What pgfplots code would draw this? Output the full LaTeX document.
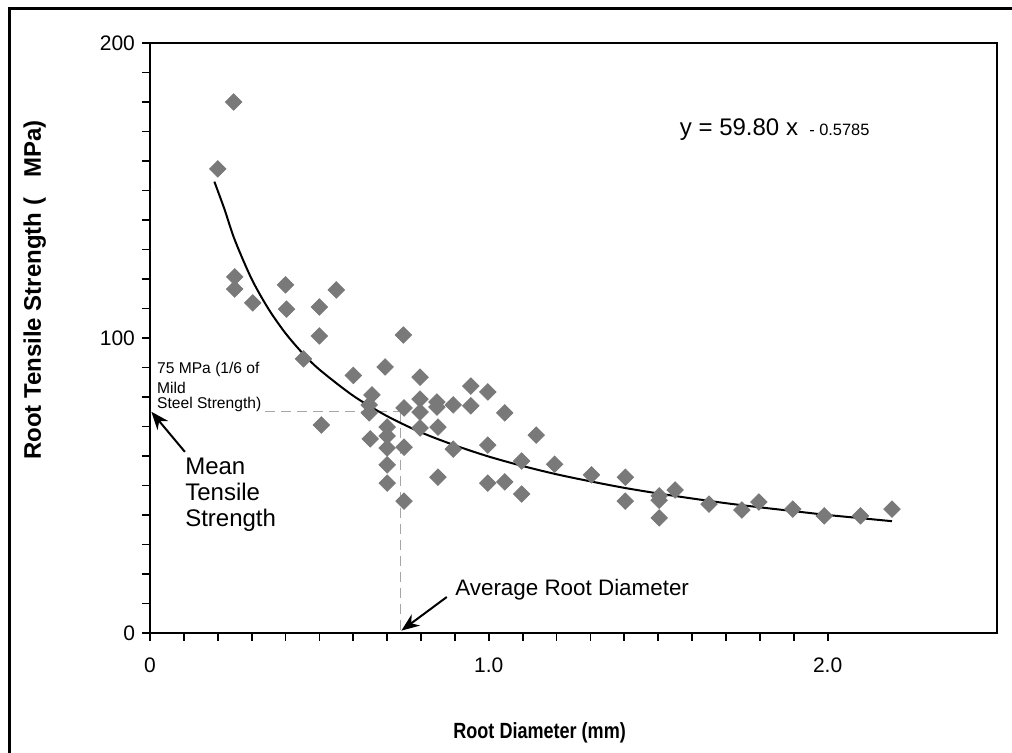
\documentclass[border=0pt]{standalone}
\usepackage{fontspec}
\setmainfont{Liberation Sans}
\newfontfamily\narrowfont{Liberation Sans}[FakeStretch=0.82]
\usepackage{pgfplots}
\pgfplotsset{compat=1.18}
\usetikzlibrary{arrows.meta}
\begin{document}
\begin{tikzpicture}
\useasboundingbox (-75pt,-60pt) rectangle (431pt,316.5pt);
\draw[line width=1.5pt] (-70pt,-60pt) -- (-70pt,312pt) -- (431pt,312pt);
\begin{axis}[
  at={(0pt,0pt)}, anchor=south west,
  width=423.5pt, height=295pt, scale only axis,
  xmin=0, xmax=2.5, ymin=0, ymax=200,
  xtick={0,1,2}, xticklabels={0,1.0,2.0},
  minor x tick num=9,
  ytick={0,100,200}, minor y tick num=9,
  tick pos=left, tick align=outside,
  major tick length=4pt, minor tick length=4pt,
  axis line style={line width=1.1pt},
  every tick/.style={black, line width=0.9pt},
  /pgf/number format/assume math mode=true,
  tick label style={font=\fontsize{10.5}{12}\selectfont},
  xticklabel style={yshift=-5pt},
  xlabel={\narrowfont\bfseries Root Diameter (mm)},
  xlabel style={at={(axis description cs:0.46,-0.169)}, anchor=center, font=\fontsize{11}{13}\selectfont},
  ylabel={\bfseries Root Tensile Strength (\ \ \ MPa)},
  ylabel style={at={(axis description cs:-0.136,0.581)}, anchor=center, font=\fontsize{12}{14}\selectfont},
  clip=false,
]
% dashed guide lines
\draw[gray!70, line width=0.6pt, dash pattern=on 5pt off 3pt] (axis cs:0.34,75) -- (axis cs:0.74,75);
\draw[gray!70, line width=0.6pt, dash pattern=on 5pt off 3pt] (axis cs:0.74,75) -- (axis cs:0.74,0);
% data
\addplot[only marks, mark=square*, mark size=2.9pt, mark options={rotate=45, fill=gray!95!black, draw=gray!95!black}, color=gray] coordinates {
(0.20,157.3) (0.247,180) (0.25,120.7) (0.25,116.6) (0.303,111.9)
(0.40,118) (0.403,109.8) (0.453,92.9) (0.50,110.5) (0.50,100.7)
(0.506,70.5) (0.55,116.3) (0.60,87.3) (0.647,77.3) (0.647,74.6)
(0.65,65.8) (0.655,80.7) (0.694,90.2) (0.70,69.8) (0.70,66.8)
(0.70,62.7) (0.70,57) (0.70,50.8) (0.748,101) (0.75,76.3)
(0.75,63) (0.75,44.7) (0.797,86.7) (0.797,79.3) (0.797,74.9)
(0.797,69.5) (0.847,78.3) (0.847,76.6) (0.85,69.8) (0.85,52.8)
(0.895,77.3) (0.895,62.3) (0.947,83.7) (0.947,77) (0.997,81.7)
(0.997,63.7) (0.997,50.8) (1.047,74.6) (1.047,51.2) (1.097,58.3)
(1.097,47.1) (1.14,67.1) (1.194,57.2) (1.303,53.6) (1.403,52.8)
(1.403,44.7) (1.503,46.5) (1.503,45) (1.503,39) (1.55,48.5)
(1.65,43.7) (1.747,41.7) (1.797,44.4) (1.897,42) (1.99,39.7)
(2.097,39.7) (2.19,42)
};
% fitted power curve
\addplot[black, line width=1pt, smooth] coordinates {
(0.19,153) (0.22,143.6) (0.25,133.3) (0.30,120.0) (0.35,109.8)
(0.40,101.6) (0.45,94.9) (0.50,89.3) (0.60,80.4) (0.70,73.5)
(0.80,68.0) (0.90,63.6) (1.00,59.8) (1.10,56.6) (1.20,53.8)
(1.30,51.4) (1.40,49.2) (1.50,47.3) (1.60,45.6) (1.70,44.0)
(1.80,42.6) (1.90,41.3) (2.00,40.0) (2.10,38.9) (2.19,37.9)
};
% annotations
\node[anchor=west, font=\fontsize{12}{13}\selectfont, inner sep=0pt] at (axis cs:1.563,170.5)
  {y = 59.80 x {\fontsize{8.2}{9}\selectfont\ - 0.5785}};
\node[anchor=west, font=\fontsize{7.8}{9}\selectfont, inner sep=0pt] at (axis cs:0.02,89.2) {75 MPa (1/6 of};
\node[anchor=west, font=\fontsize{7.8}{9}\selectfont, inner sep=0pt] at (axis cs:0.02,83.1) {Mild};
\node[anchor=west, font=\fontsize{7.8}{9}\selectfont, inner sep=0pt] at (axis cs:0.02,77.4) {Steel Strength)};
\draw[-{Stealth[length=9pt,width=7pt]}, line width=1pt] (axis cs:0.103,61.4) -- (axis cs:0.004,75);
\node[anchor=north west, align=left, font=\fontsize{12}{13}\selectfont, inner sep=0pt] at (axis cs:0.103,59.5) {Mean\\Tensile\\Strength};
\draw[-{Stealth[length=9pt,width=7pt]}, line width=1pt] (axis cs:0.876,12.2) -- (axis cs:0.742,0.8);
\node[anchor=west, font=\fontsize{11.2}{13}\selectfont, inner sep=0pt] at (axis cs:0.9,14.6) {Average Root Diameter};
\end{axis}
\end{tikzpicture}
\end{document}
